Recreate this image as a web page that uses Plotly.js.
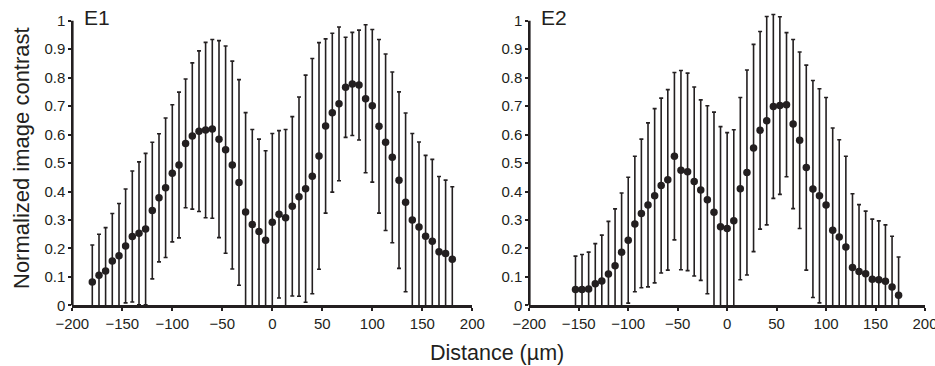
<!DOCTYPE html>
<html>
<head>
<meta charset="utf-8">
<script src="https://cdn.plot.ly/plotly-3.0.1.min.js"></script>
<style>html,body{margin:0;padding:0;background:#fff;}#chart{width:935px;height:366px;}</style>
</head>
<body>
<div id="chart"></div>
<script>
// ---- Data ----
const e1Distance = [-180, -173.3, -166.7, -160, -153.3, -146.7, -140, -133.3, -126.7, -120, -113.3, -106.7, -100, -93.3, -86.7, -80, -73.3, -66.7, -60, -53.3, -46.7, -40, -33.3, -26.7, -20, -13.3, -6.7, 0, 6.7, 13.3, 20, 26.7, 33.3, 40, 46.7, 53.3, 60, 66.7, 73.3, 80, 86.7, 93.3, 100, 106.7, 113.3, 120, 126.7, 133.3, 140, 146.7, 153.3, 160, 166.7, 173.3, 180];
const e1Contrast = [0.082, 0.106, 0.121, 0.156, 0.174, 0.209, 0.242, 0.253, 0.268, 0.333, 0.378, 0.413, 0.464, 0.493, 0.569, 0.595, 0.612, 0.616, 0.620, 0.584, 0.547, 0.493, 0.432, 0.328, 0.284, 0.260, 0.229, 0.292, 0.320, 0.308, 0.348, 0.382, 0.410, 0.454, 0.525, 0.630, 0.677, 0.708, 0.766, 0.778, 0.774, 0.726, 0.701, 0.629, 0.573, 0.520, 0.440, 0.362, 0.300, 0.275, 0.243, 0.225, 0.188, 0.182, 0.162];
const e1Error = [0.13, 0.144, 0.152, 0.167, 0.184, 0.2, 0.23, 0.251, 0.266, 0.24, 0.225, 0.245, 0.241, 0.256, 0.226, 0.257, 0.282, 0.308, 0.314, 0.346, 0.364, 0.365, 0.361, 0.349, 0.334, 0.324, 0.314, 0.312, 0.294, 0.31, 0.315, 0.35, 0.399, 0.413, 0.398, 0.306, 0.279, 0.27, 0.176, 0.181, 0.193, 0.26, 0.268, 0.305, 0.31, 0.3, 0.31, 0.314, 0.304, 0.299, 0.284, 0.288, 0.265, 0.258, 0.255];

const e2Distance = [-153.3, -146.7, -140, -133.3, -126.7, -120, -113.3, -106.7, -100, -93.3, -86.7, -80, -73.3, -66.7, -60, -53.3, -46.7, -40, -33.3, -26.7, -20, -13.3, -6.7, 0, 6.7, 13.3, 20, 26.7, 33.3, 40, 46.7, 53.3, 60, 66.7, 73.3, 80, 86.7, 93.3, 100, 106.7, 113.3, 120, 126.7, 133.3, 140, 146.7, 153.3, 160, 166.7, 173.3];
const e2Contrast = [0.056, 0.056, 0.058, 0.076, 0.086, 0.110, 0.139, 0.187, 0.229, 0.286, 0.323, 0.353, 0.385, 0.421, 0.441, 0.524, 0.475, 0.469, 0.435, 0.405, 0.371, 0.327, 0.276, 0.270, 0.297, 0.410, 0.467, 0.553, 0.615, 0.649, 0.699, 0.702, 0.705, 0.637, 0.580, 0.484, 0.409, 0.385, 0.353, 0.264, 0.240, 0.205, 0.133, 0.119, 0.111, 0.092, 0.090, 0.085, 0.065, 0.036];
const e2Error = [0.117, 0.123, 0.129, 0.141, 0.161, 0.185, 0.2, 0.208, 0.221, 0.238, 0.261, 0.288, 0.306, 0.307, 0.317, 0.294, 0.35, 0.347, 0.332, 0.317, 0.33, 0.352, 0.352, 0.337, 0.32, 0.32, 0.36, 0.364, 0.347, 0.366, 0.323, 0.312, 0.253, 0.297, 0.31, 0.36, 0.381, 0.376, 0.377, 0.359, 0.342, 0.319, 0.259, 0.235, 0.22, 0.211, 0.207, 0.198, 0.178, 0.134];

const panelLabels = ['E1', 'E2'];
const xTickVals = [-200, -150, -100, -50, 0, 50, 100, 150, 200];
const yTickVals = [0, 0.1, 0.2, 0.3, 0.4, 0.5, 0.6, 0.7, 0.8, 0.9, 1];
const xTitle = 'Distance (µm)';
const yTitle = 'Normalized image contrast';

// ---- Styling ----
const ink = '#231f20';
const fontFam = 'Liberation Sans, Arial, Helvetica, sans-serif';

function series(x, y, err, xa, ya) {
  return {
    type: 'scatter', mode: 'markers', x: x, y: y, xaxis: xa, yaxis: ya,
    marker: {color: ink, size: 7.5},
    error_y: {type: 'data', array: err, visible: true, color: ink, thickness: 1.6, width: 2},
    hoverinfo: 'x+y', showlegend: false
  };
}

const data = [
  series(e1Distance, e1Contrast, e1Error, 'x', 'y'),
  series(e2Distance, e2Contrast, e2Error, 'x2', 'y2')
];

const W = 935, H = 366;
const yTopRange = 1.04;
const y0px = 305.4, y1px = 20.7;
const yTopPx = y1px - (yTopRange - 1) * (y0px - y1px);
const yDom = [(H - y0px) / H, (H - yTopPx) / H];

function xAxis(dom, anchor) {
  return {
    domain: dom, anchor: anchor, range: [-200, 200], tickvals: xTickVals,
    showline: true, linecolor: ink, linewidth: 2.6, mirror: false,
    ticks: 'outside', ticklen: 3, tickwidth: 2, tickcolor: ink,
    showgrid: false, zeroline: false, ticklabeloverflow: 'allow',
    tickfont: {family: fontFam, size: 15, color: ink}
  };
}
function yAxis(anchor) {
  return {
    domain: yDom, anchor: anchor, range: [0, yTopRange], tickvals: yTickVals,
    ticktext: yTickVals.map(v => String(v)),
    showline: false, ticks: 'outside', ticklen: 3, tickwidth: 2, tickcolor: ink,
    showgrid: false, zeroline: false,
    tickfont: {family: fontFam, size: 15, color: ink}
  };
}

const layout = {
  width: W, height: H,
  margin: {l: 0, r: 0, t: 0, b: 0},
  paper_bgcolor: '#fff', plot_bgcolor: '#fff',
  showlegend: false,
  xaxis: xAxis([72.3 / W, 472.3 / W], 'y'),
  yaxis: yAxis('x'),
  xaxis2: xAxis([529.3 / W, 925 / W], 'y2'),
  yaxis2: yAxis('x2'),
  shapes: [
    {type: 'line', xref: 'x domain', yref: 'y', x0: 0, x1: 0, y0: 0, y1: 1, line: {color: ink, width: 2.6}},
    {type: 'line', xref: 'x2 domain', yref: 'y2', x0: 0, x1: 0, y0: 0, y1: 1, line: {color: ink, width: 2.6}}
  ],
  annotations: [
    {text: panelLabels[0], xref: 'paper', yref: 'paper', x: 82 / W, y: (H - 4) / H, xanchor: 'left', yanchor: 'top', showarrow: false, font: {family: fontFam, size: 21, color: ink}},
    {text: panelLabels[1], xref: 'paper', yref: 'paper', x: 539 / W, y: (H - 4) / H, xanchor: 'left', yanchor: 'top', showarrow: false, font: {family: fontFam, size: 21, color: ink}},
    {text: xTitle, xref: 'paper', yref: 'paper', x: 497 / W, y: (H - 339) / H, xanchor: 'center', yanchor: 'top', showarrow: false, font: {family: fontFam, size: 21.5, color: ink}},
    {text: yTitle, xref: 'paper', yref: 'paper', x: 21 / W, y: (H - 158) / H, xanchor: 'center', yanchor: 'middle', textangle: -90, showarrow: false, font: {family: fontFam, size: 22, color: ink}}
  ]
};

Plotly.newPlot('chart', data, layout, {displayModeBar: false, staticPlot: true});
</script>
</body>
</html>
